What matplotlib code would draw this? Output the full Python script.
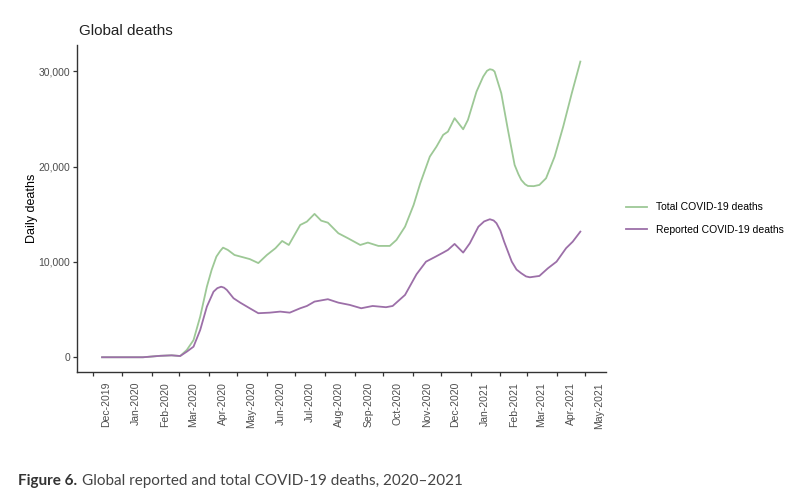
import pandas as pd
import numpy as np
import matplotlib.pyplot as plt
import matplotlib.dates as mdates
from matplotlib.transforms import ScaledTranslation

# Daily deaths
total_dates = ['2019-12-11', '2020-01-23', '2020-02-10', '2020-02-22', '2020-03-02', '2020-03-09',
               '2020-03-16', '2020-03-23', '2020-03-30', '2020-04-04', '2020-04-09', '2020-04-13',
               '2020-04-16', '2020-04-21', '2020-04-28', '2020-05-07', '2020-05-14', '2020-05-23',
               '2020-06-01', '2020-06-10', '2020-06-17', '2020-06-24', '2020-07-06', '2020-07-13',
               '2020-07-21', '2020-07-28', '2020-08-04', '2020-08-15', '2020-08-25', '2020-09-07',
               '2020-09-15', '2020-09-26', '2020-10-08', '2020-10-15', '2020-10-24', '2020-11-02',
               '2020-11-09', '2020-11-19', '2020-11-26', '2020-12-03', '2020-12-08', '2020-12-15',
               '2020-12-24', '2020-12-29', '2021-01-07', '2021-01-14', '2021-01-18', '2021-01-21',
               '2021-01-24', '2021-01-26', '2021-02-02', '2021-02-09', '2021-02-16', '2021-02-20',
               '2021-02-23', '2021-02-27', '2021-03-02', '2021-03-08', '2021-03-14', '2021-03-21',
               '2021-03-30', '2021-04-08', '2021-04-17', '2021-04-26']
total_deaths = [0, 0, 150, 200, 130, 770,
                1800, 4260, 7400, 9160, 10560, 11150,
                11500, 11260, 10730, 10490, 10300, 9880,
                10730, 11440, 12200, 11780, 13880, 14230,
                15040, 14330, 14120, 13010, 12490, 11780,
                12030, 11680, 11680, 12310, 13700, 15980,
                18260, 21050, 22100, 23330, 23670, 25080,
                23920, 24900, 27870, 29440, 30050, 30220,
                30150, 29970, 27700, 23850, 20180, 19200,
                18600, 18150, 17970, 17950, 18080, 18780,
                21050, 24200, 27700, 31020]

reported_dates = ['2019-12-11', '2020-01-23', '2020-02-10', '2020-02-22', '2020-03-02', '2020-03-09',
                  '2020-03-16', '2020-03-23', '2020-03-30', '2020-04-06', '2020-04-10', '2020-04-14',
                  '2020-04-17', '2020-04-20', '2020-04-27', '2020-05-04', '2020-05-14', '2020-05-23',
                  '2020-06-04', '2020-06-15', '2020-06-25', '2020-07-06', '2020-07-13', '2020-07-21',
                  '2020-08-04', '2020-08-15', '2020-08-27', '2020-09-08', '2020-09-20', '2020-10-04',
                  '2020-10-11', '2020-10-24', '2020-11-05', '2020-11-15', '2020-11-25', '2020-12-03',
                  '2020-12-08', '2020-12-15', '2020-12-24', '2020-12-31', '2021-01-09', '2021-01-15',
                  '2021-01-21', '2021-01-25', '2021-01-28', '2021-02-01', '2021-02-05', '2021-02-13',
                  '2021-02-18', '2021-02-23', '2021-02-28', '2021-03-04', '2021-03-14', '2021-03-23',
                  '2021-04-01', '2021-04-11', '2021-04-18', '2021-04-26']
reported_deaths = [0, 0, 150, 200, 130, 590,
                   1110, 2860, 5310, 6880, 7250, 7400,
                   7300, 7060, 6190, 5730, 5140, 4620,
                   4680, 4790, 4680, 5140, 5380, 5840,
                   6090, 5730, 5490, 5140, 5380, 5250,
                   5380, 6540, 8700, 10030, 10550, 10980,
                   11260, 11890, 10980, 11960, 13700, 14250,
                   14480, 14350, 14060, 13300, 12130, 10030,
                   9200, 8810, 8480, 8390, 8530, 9340,
                   10030, 11440, 12130, 13180]

fig = plt.figure(figsize=(8, 4.99), dpi=100)
plt.rcParams['font.family'] = ['Liberation Sans', 'DejaVu Sans']
ax = fig.add_axes([0.0966, 0.254, 0.661, 0.656])

ax.plot(pd.to_datetime(total_dates), total_deaths, color='#9dc896', lw=1.3,
        label='Total COVID-19 deaths')
ax.plot(pd.to_datetime(reported_dates), reported_deaths, color='#9c6fa8', lw=1.3,
        label='Reported COVID-19 deaths')

ax.set_xlim(pd.Timestamp('2019-11-15'), pd.Timestamp('2021-05-23'))
ax.set_ylim(-1574, 32770)
ax.set_yticks([0, 10000, 20000, 30000])
ax.yaxis.set_major_formatter(plt.FuncFormatter(lambda v, p: f'{int(v):,}'))

ax.set_xticks(pd.date_range('2019-12-01', '2021-05-01', freq='MS'))
ax.xaxis.set_major_formatter(mdates.DateFormatter('%b-%Y'))

ax.tick_params(axis='both', labelsize=7.5, labelcolor='#4d4d4d', color='#333333',
               length=3, width=0.9, direction='out', pad=2)
ax.tick_params(axis='x', pad=4)

# rotated month labels sit a little right of their ticks, like the original
plt.setp(ax.get_xticklabels(), rotation=90, ha='center', va='top')
shift = ScaledTranslation(14 / 100, 0, fig.dpi_scale_trans)
for lab in ax.get_xticklabels():
    lab.set_transform(lab.get_transform() + shift)

for side in ['top', 'right']:
    ax.spines[side].set_visible(False)
for side in ['left', 'bottom']:
    ax.spines[side].set_color('#333333')
    ax.spines[side].set_linewidth(1.0)

ax.set_ylabel('Daily deaths', fontsize=9)
ax.yaxis.set_label_coords(-0.075, 0.5)
ax.set_title('Global deaths', fontsize=11, loc='left', x=0.003, pad=7, color='#222222')

ax.legend(loc='center left', bbox_to_anchor=(1.02, 0.47), frameon=False,
          fontsize=7.5, handlelength=2.0, labelspacing=1.2, handletextpad=0.9)

fig.text(0.0225, 0.028, 'Figure 6.', fontsize=11, family='Lato', weight='bold', color='#333333')
fig.text(0.1025, 0.028, 'Global reported and total COVID-19 deaths, 2020–2021', fontsize=11,
         family='Lato', color='#444444')

plt.savefig('out.png', dpi=100)
